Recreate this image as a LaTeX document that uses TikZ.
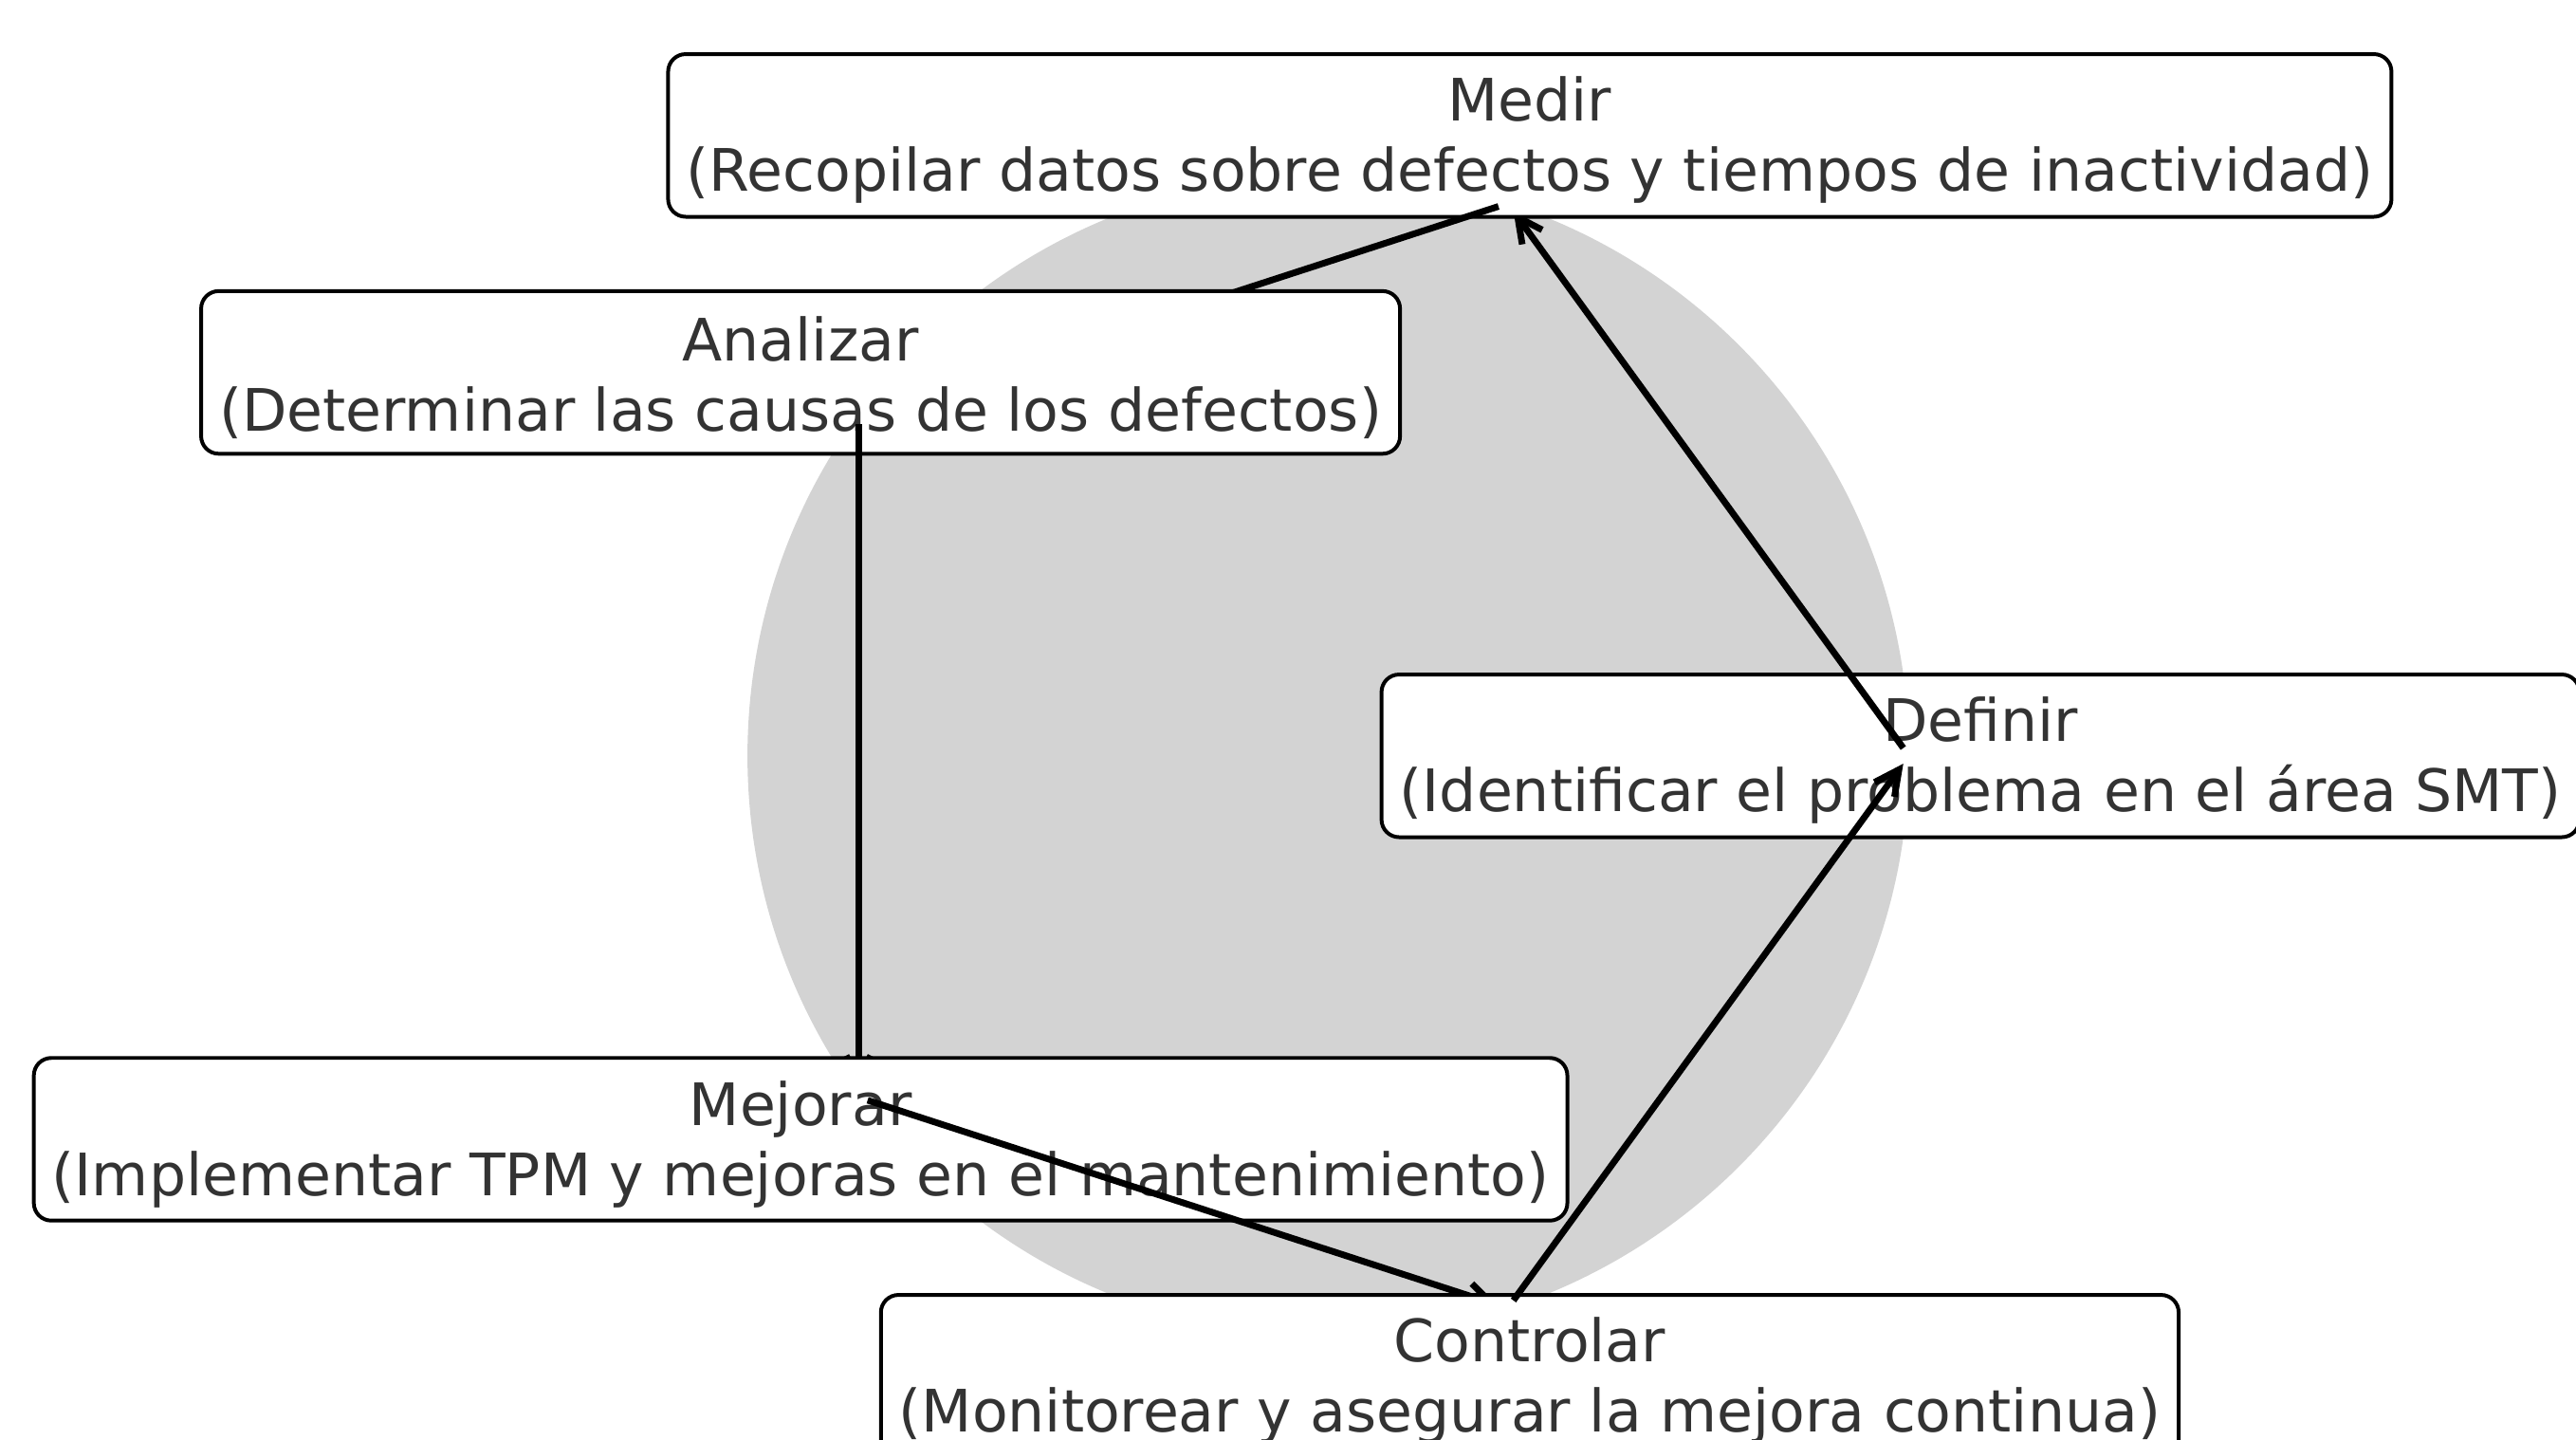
\documentclass[tikz,border=0pt]{standalone}
\usepackage{fontspec}
\setmainfont{DejaVu Sans}
\usetikzlibrary{arrows.meta}

\definecolor{circlegray}{HTML}{D3D3D3}
\definecolor{textgray}{HTML}{333333}

\newcommand{\stagetext}[2]{\rule{0pt}{33pt}#1\\(#2)}

\tikzset{
	stagebox/.style={draw=black, line width=2.3pt, fill=white, rounded corners=10.7pt, align=center, text=textgray, inner xsep=11pt, inner ysep=0pt, minimum height=99pt, font=\fontsize{35.6}{42.7}\selectfont},
	flowarrow/.style={-{Straight Barb[length=15pt,width=15pt]}, line width=4pt, shorten <=5.9pt, shorten >=5.9pt}
}

\begin{document}
\begin{tikzpicture}[x=1pt,y=1pt]
	\useasboundingbox (-808.5,-416) rectangle (759.5,460);
	
	\fill[circlegray] (0,0) circle (353.5);
	
	\coordinate (pDefinir) at (0:353.5);
	\coordinate (pMedir) at (72:353.5);
	\coordinate (pAnalizar) at (144:353.5);
	\coordinate (pMejorar) at (216:353.5);
	\coordinate (pControlar) at (288:353.5);
	
	\node[stagebox] (definir) at (0:397) {\stagetext{Definir}{Identificar el problema en el área SMT}};
	\draw[flowarrow] (pDefinir) -- (pMedir);
	
	\node[stagebox] (medir) at (72:397) {\stagetext{Medir}{Recopilar datos sobre defectos y tiempos de inactividad}};
	\draw[flowarrow] (pMedir) -- (pAnalizar);
	
	\node[stagebox] (analizar) at (144:397) {\stagetext{Analizar}{Determinar las causas de los defectos}};
	\draw[flowarrow] (pAnalizar) -- (pMejorar);
	
	\node[stagebox] (mejorar) at (216:397) {\stagetext{Mejorar}{Implementar TPM y mejoras en el mantenimiento}};
	\draw[flowarrow] (pMejorar) -- (pControlar);
	
	\node[stagebox] (controlar) at (288:397) {\stagetext{Controlar}{Monitorear y asegurar la mejora continua}};
	\draw[flowarrow] (pControlar) -- (pDefinir);
	
\end{tikzpicture}
\end{document}
